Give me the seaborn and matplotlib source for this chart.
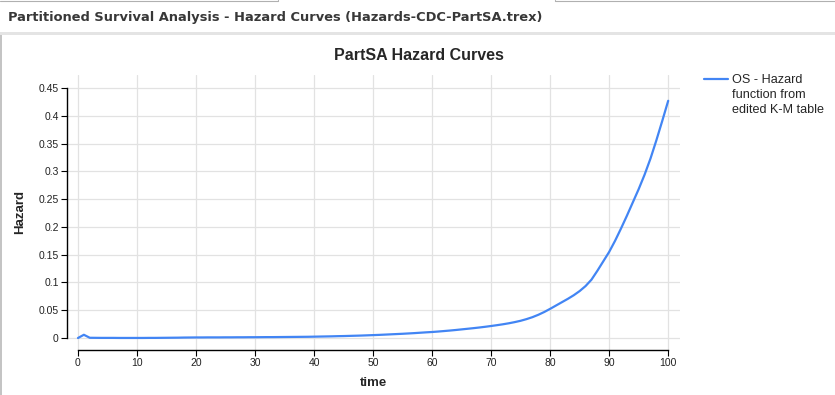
import numpy as np
import pandas as pd
import seaborn as sns
import matplotlib
import matplotlib.pyplot as plt
from matplotlib.patches import Rectangle
from matplotlib.lines import Line2D

sns.set_style('white')
matplotlib.rcParams['font.family'] = ['Liberation Sans', 'DejaVu Sans']

# hazard by year
time = list(range(0, 101))
hazard = [
    0.0, 0.0058, 0.0004, 0.0003, 0.0002, 0.0002, 0.0002, 0.0001, 0.0001, 0.0001,
    0.0001, 0.0001, 0.0002, 0.0002, 0.0003, 0.0004, 0.0005, 0.0006, 0.0008, 0.0009,
    0.0010, 0.0010, 0.0011, 0.0011, 0.0011, 0.0012, 0.0012, 0.0013, 0.0013, 0.0014,
    0.0014, 0.0015, 0.0016, 0.0016, 0.0017, 0.0018, 0.0019, 0.0020, 0.0021, 0.0022,
    0.0024, 0.0026, 0.0028, 0.0030, 0.0033, 0.0035, 0.0038, 0.0041, 0.0044, 0.0048,
    0.0052, 0.0056, 0.0061, 0.0066, 0.0071, 0.0076, 0.0082, 0.0088, 0.0095, 0.0102,
    0.0108, 0.0116, 0.0125, 0.0134, 0.0144, 0.0155, 0.0166, 0.0177, 0.0189, 0.0202,
    0.0216, 0.0231, 0.0247, 0.0265, 0.0286, 0.0310, 0.0340, 0.0375, 0.0418, 0.0468,
    0.0525, 0.0585, 0.0645, 0.0705, 0.0770, 0.0845, 0.0935, 0.1050, 0.1210, 0.1380,
    0.1550, 0.1750, 0.1970, 0.2200, 0.2440, 0.2680, 0.2940, 0.3230, 0.3560, 0.3910,
    0.4270,
]
legend_lines = ['OS - Hazard', 'function from', 'edited K-M table']
xticks = list(range(0, 101, 10))
yticks = [0, 0.05, 0.1, 0.15, 0.2, 0.25, 0.3, 0.35, 0.4, 0.45]
ytick_labels = ['0', '0.05', '0.1', '0.15', '0.2', '0.25', '0.3', '0.35', '0.4', '0.45']

df = pd.DataFrame({'time': time, 'Hazard': hazard})
blue = '#4285f4'

W, H = 835, 395
fig = plt.figure(figsize=(W / 100, H / 100), dpi=100)
fig.patch.set_facecolor('white')

# window header
fig.text(8 / W, 1 - 18 / H, 'Partitioned Survival Analysis - Hazard Curves (Hazards-CDC-PartSA.trex)',
         family='DejaVu Sans', fontsize=9.4, fontweight='bold', color='#383838', va='center', ha='left')
fig.patches.append(Rectangle((0, 1 - 35 / H), 1, 3 / H, transform=fig.transFigure,
                             facecolor='#e4e4e4', edgecolor='none'))
fig.patches.append(Rectangle((0, 0), 2 / W, 1 - 35 / H, transform=fig.transFigure,
                             facecolor='#c4c4c4', edgecolor='none'))
fig.lines.append(Line2D([0, 278 / W, 278 / W], [1 - 1 / H, 1 - 1 / H, 1], transform=fig.transFigure,
                        color='#b0b0b0', lw=0.8))
fig.lines.append(Line2D([555 / W, 555 / W, 1], [1, 1 - 1 / H, 1 - 1 / H], transform=fig.transFigure,
                        color='#b0b0b0', lw=0.8))

ax = fig.add_axes([67 / W, 1 - 350 / H, (680 - 67) / W, (350 - 75) / H])
sns.lineplot(data=df, x='time', y='Hazard', ax=ax, color=blue, linewidth=1.6, legend=False)

ax.set_xlim(-1.86, 102.0)
ax.set_ylim(-0.0216, 0.4734)
ax.set_xticks(xticks)
ax.set_yticks(yticks)
ax.set_yticklabels(ytick_labels)
ax.grid(True, color='#e2e2e2', linewidth=0.9)
ax.tick_params(axis='both', labelsize=7.5, length=4, width=0.8, color='black', pad=2, labelcolor='#222222')
ax.tick_params(axis='x', bottom=True)
ax.tick_params(axis='y', left=True)

for s in ['top', 'right']:
    ax.spines[s].set_visible(False)
ax.spines['left'].set_bounds(0, 0.45)
ax.spines['bottom'].set_bounds(0, 100)
for s in ['left', 'bottom']:
    ax.spines[s].set_color('black')
    ax.spines[s].set_linewidth(1.0)

ax.set_xlabel('time', fontsize=9.5, fontweight='bold', labelpad=6)
ax.set_ylabel('Hazard', fontsize=9.5, fontweight='bold', labelpad=9)
fig.text(419 / W, 1 - 55 / H, 'PartSA Hazard Curves', fontsize=11.5, fontweight='bold',
         ha='center', va='center')

# legend: handle only beside the first line of the wrapped label
handles = [Line2D([], [], color=blue, lw=1.6),
           Line2D([], [], color='none'),
           Line2D([], [], color='none')]
leg = ax.legend(handles=handles, labels=legend_lines, loc='upper left',
                bbox_to_anchor=(704 / W, 1 - 74 / H), bbox_transform=fig.transFigure,
                frameon=False, fontsize=9.1, handlelength=1.9, handletextpad=0.3,
                borderaxespad=0, borderpad=0, labelspacing=0.25, handleheight=0.7)

fig.savefig('out.png', dpi=100)
